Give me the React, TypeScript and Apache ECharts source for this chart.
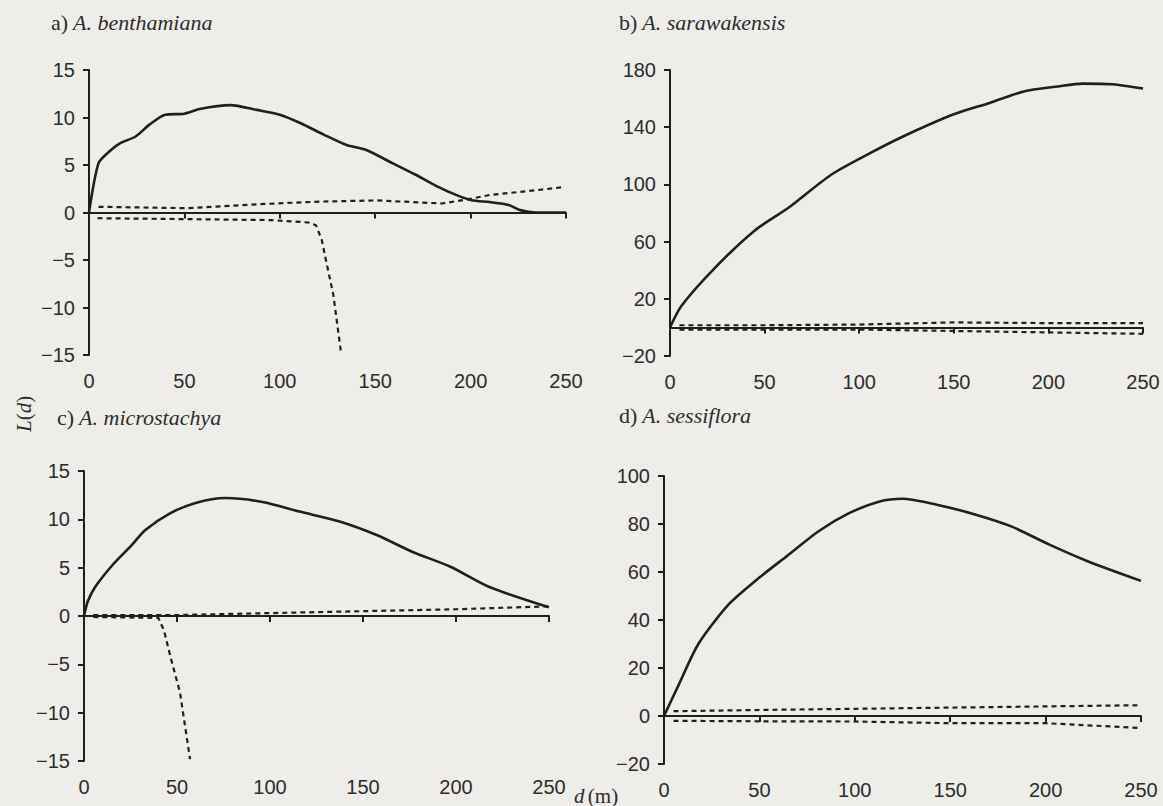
import React, { useEffect, useRef } from "react";
import * as echarts from "echarts";

// ---------- data ----------
const X_MIN = 0;
const X_MAX = 250;
const X_INTERVAL = 50;

// a) A. benthamiana
const aObsD = [0, 5, 10.5, 16.4, 24.4, 32, 40, 50, 58, 74, 88, 100, 111, 123, 135, 145, 159, 171, 183, 193, 200.5, 210, 220, 226, 234, 250];
const aObsL = [0, 5.2, 6.4, 7.3, 8.0, 9.3, 10.3, 10.4, 10.9, 11.3, 10.8, 10.3, 9.4, 8.2, 7.1, 6.6, 5.2, 4.0, 2.7, 1.8, 1.3, 1.1, 0.8, 0.25, 0, 0];
const aUpD = [5, 52, 92, 121, 151, 185, 199, 210, 230, 248];
const aUpL = [0.6, 0.45, 0.9, 1.15, 1.27, 0.95, 1.4, 1.85, 2.25, 2.65];
const aLoD = [4.5, 52, 95.6, 115, 119, 122, 125, 128, 132];
const aLoL = [-0.6, -0.7, -0.8, -1.05, -1.35, -2.9, -5.8, -8.6, -14.6];

// b) A. sarawakensis
const bObsD = [0, 6, 24, 45, 63, 85, 106, 124, 150, 169, 187, 205, 218, 234, 250];
const bObsL = [0, 15, 42, 68, 84, 106.6, 122, 134, 149, 157, 165, 168.5, 170.5, 170, 167];
const bUpD = [5, 50, 100, 150, 200, 250];
const bUpL = [1.5, 1.5, 2, 3.5, 3, 3];
const bLoD = [5, 50, 100, 150, 200, 250];
const bLoL = [-1.5, -1.5, -1.5, -2.5, -3.5, -4.5];

// c) A. microstachya
const cObsD = [0, 2, 6, 15, 25, 33, 46, 60, 76, 96, 116, 137, 157, 177, 197, 218, 250];
const cObsL = [0, 1.5, 3.0, 5.2, 7.2, 8.9, 10.6, 11.7, 12.2, 11.8, 10.8, 9.8, 8.4, 6.6, 5.1, 3.0, 0.9];
const cUpD = [5, 50, 100, 150, 200, 250];
const cUpL = [0.1, 0.1, 0.3, 0.5, 0.7, 1.0];
const cLoD = [5, 40, 43, 46.6, 51.6, 57];
const cLoL = [-0.1, -0.2, -1.5, -4.3, -7.9, -14.8];

// d) A. sessiflora
const dObsD = [0, 8, 18, 34, 50, 65, 81, 97, 113, 125, 143, 163, 182, 202, 222, 250];
const dObsL = [0, 13.5, 30, 46.6, 57.7, 67, 77, 84.5, 89.4, 90.5, 88, 84, 79, 71.4, 64.5, 56.3];
const dUpD = [5, 50, 100, 150, 200, 250];
const dUpL = [2, 2.5, 3, 3.5, 4, 4.5];
const dLoD = [5, 50, 100, 150, 200, 250];
const dLoL = [-2, -2.2, -2.3, -3, -3, -5];

const panelTitles = [
  { letter: "a)", species: "A. benthamiana" },
  { letter: "b)", species: "A. sarawakensis" },
  { letter: "c)", species: "A. microstachya" },
  { letter: "d)", species: "A. sessiflora" },
];
const yRanges = [
  { min: -15, max: 15, interval: 5 },
  { min: -20, max: 180, interval: 40 },
  { min: -15, max: 15, interval: 5 },
  { min: -20, max: 100, interval: 20 },
];

const zip = (xs: number[], ys: number[]) => xs.map((x, i) => [x, ys[i]]);

const panels = [
  { obs: zip(aObsD, aObsL), up: zip(aUpD, aUpL), lo: zip(aLoD, aLoL) },
  { obs: zip(bObsD, bObsL), up: zip(bUpD, bUpL), lo: zip(bLoD, bLoL) },
  { obs: zip(cObsD, cObsL), up: zip(cUpD, cUpL), lo: zip(cLoD, cLoL) },
  { obs: zip(dObsD, dObsL), up: zip(dUpD, dUpL), lo: zip(dLoD, dLoL) },
];

// ---------- layout ----------
const grids = [
  { left: 89, top: 70, width: 477, height: 285 },
  { left: 670, top: 70, width: 473, height: 286 },
  { left: 84, top: 471, width: 465, height: 290 },
  { left: 664, top: 476, width: 477, height: 288 },
];
const titlePos = [
  { left: 46, top: 6 },
  { left: 614, top: 6 },
  { left: 52, top: 401 },
  { left: 614, top: 399 },
];

const INK = "#1f1f1f";
const TEXT = "#2c2c2c";
const SANS = "'Liberation Sans', Arial, sans-serif";
const SERIF = "'Liberation Serif', 'Times New Roman', serif";

const minusFmt = (v: number) => String(v).replace("-", "\u2212");

export default function App() {
  const ref = useRef<HTMLDivElement>(null);
  useEffect(() => {
    if (!ref.current) return;
    const chart = echarts.init(ref.current, undefined, { renderer: "svg" });

    const xAxis = grids.map((_, i) => ({
      type: "value",
      gridIndex: i,
      min: X_MIN,
      max: X_MAX,
      interval: X_INTERVAL,
      splitLine: { show: false },
      axisLine: { show: true, onZero: true, lineStyle: { color: INK, width: 2 } },
      axisTick: { show: true, inside: false, length: 6, lineStyle: { color: INK, width: 2 } },
      axisLabel: { fontSize: 20, color: TEXT, fontFamily: SANS, margin: 16, formatter: minusFmt },
    }));
    const yAxis = yRanges.map((r, i) => ({
      type: "value",
      gridIndex: i,
      min: r.min,
      max: r.max,
      interval: r.interval,
      splitLine: { show: false },
      axisLine: { show: true, onZero: false, lineStyle: { color: INK, width: 2 } },
      axisTick: { show: true, inside: false, length: 6, lineStyle: { color: INK, width: 2 } },
      axisLabel: { fontSize: 20, color: TEXT, fontFamily: SANS, margin: 14, formatter: minusFmt },
    }));

    const series: any[] = [];
    panels.forEach((p, i) => {
      series.push({
        type: "line", xAxisIndex: i, yAxisIndex: i, data: p.obs, showSymbol: false,
        smooth: 0.25, lineStyle: { color: INK, width: 2.6 }, z: 3,
      });
      series.push({
        type: "line", xAxisIndex: i, yAxisIndex: i, data: p.up, showSymbol: false,
        lineStyle: { color: INK, width: 2.2, type: [5, 4] }, z: 2,
      });
      series.push({
        type: "line", xAxisIndex: i, yAxisIndex: i, data: p.lo, showSymbol: false,
        lineStyle: { color: INK, width: 2.2, type: [5, 4] }, z: 2,
      });
    });

    const richTitle = {
      n: { fontFamily: SERIF, fontSize: 22, fontWeight: "normal", color: TEXT },
      i: { fontFamily: SERIF, fontSize: 22, fontWeight: "normal", fontStyle: "italic", color: TEXT },
    };
    const title = panelTitles.map((t, i) => ({
      text: `{n|${t.letter}} {i|${t.species}}`,
      left: titlePos[i].left,
      top: titlePos[i].top,
      textStyle: { fontWeight: "normal", rich: richTitle },
    }));

    const richG = {
      n: { fontFamily: SERIF, fontSize: 21, fill: TEXT },
      i: { fontFamily: SERIF, fontSize: 21, fontStyle: "italic", fill: TEXT },
    };

    chart.setOption({
      animation: false,
      backgroundColor: "#eeede9",
      title,
      grid: grids.map((g) => ({ ...g, containLabel: false })),
      xAxis,
      yAxis,
      series,
      graphic: [
        {
          type: "text",
          x: 13,
          y: 432,
          rotation: Math.PI / 2,
          style: { text: "{i|L}{n|(}{i|d}{n|)}", rich: richG },
        },
        {
          type: "text",
          x: 574,
          y: 785,
          style: { text: "{i|d} {n|(m)}", rich: richG },
        },
      ],
    });
    return () => chart.dispose();
  }, []);
  return (
    <div
      ref={ref}
      style={{ position: "fixed", left: 0, top: 0, width: 1163, height: 806 }}
    />
  );
}
